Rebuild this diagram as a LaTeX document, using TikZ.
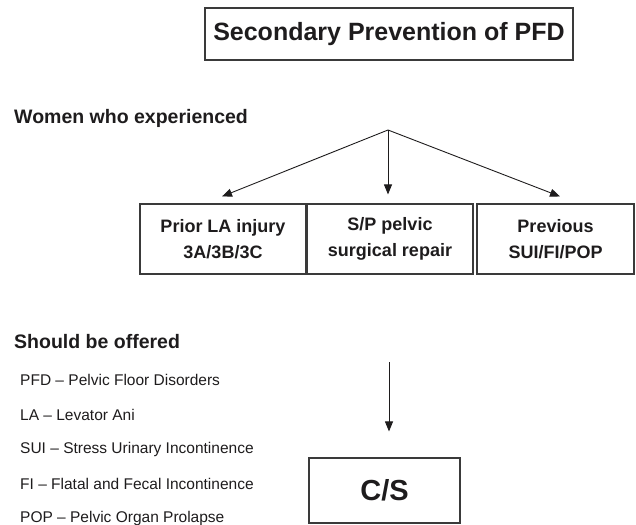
\documentclass[tikz,border=0pt]{standalone}
\usepackage[rgb]{xcolor}
\usepackage{fontspec}
\setmainfont{Liberation Sans}
\usepackage{tikz}
\usetikzlibrary{arrows.meta}
\newdimen\boxH
\newdimen\boxW
\setlength{\boxH}{70pt}
\setlength{\boxW}{166pt}
\definecolor{ink}{HTML}{1E1C1D}
\definecolor{rule}{HTML}{3A3A3A}
\tikzset{
  framebox/.style={draw=rule, line width=1.1pt, inner sep=0pt, align=center},
  groupbox/.style={framebox, minimum height=\boxH, font=\fontsize{18}{26}\selectfont\bfseries},
  headtext/.style={anchor=west, inner sep=0pt, font=\fontsize{19.5}{22}\selectfont\bfseries},
  listtext/.style={anchor=west, inner sep=0pt, font=\fontsize{15.5}{18}\selectfont},
  arr/.style={draw=ink, line width=0.9pt, -{Triangle[length=10pt,width=8pt]}},
}

\begin{document}
\begin{tikzpicture}[x=1pt, y=-1pt, color=ink]
    \useasboundingbox (0,0) rectangle (636,524);
    \node[framebox, minimum width=368pt, minimum height=52pt,
      font=\fontsize{25}{28}\selectfont\bfseries] (title) at (389,34)
      {Secondary Prevention of PFD};
    \node[headtext] (women) at (14,118) {Women who experienced};
    \coordinate (apex) at (388,130);
    % three groups
    \node[groupbox, minimum width=\boxW] (injury) at (223,239)
      {Prior LA injury\\3A/3B/3C};
    \node[groupbox, minimum width=\boxW] (repair) at (390,239)
      {S/P pelvic\\surgical repair};
    \node[groupbox, minimum width=157pt] (previous) at (555.5,239)
      {Previous\\SUI/FI/POP};
    \draw[arr] (apex) -- ([xshift=-1pt,yshift=7pt]injury.north);
    \draw[arr] (apex) -- ([yshift=9pt,xshift=-2pt]repair.north);
    \draw[arr] (apex) -- ([xshift=4.5pt,yshift=7pt]previous.north);
    \node[headtext] (offered) at (14,342) {Should be offered};
    \node[listtext] (pfd) at (20,380) {PFD -- Pelvic Floor Disorders};
    \node[listtext] (la) at (20,415) {LA -- Levator Ani};
    \node[listtext] (sui) at (20,449) {SUI -- Stress Urinary Incontinence};
    \node[listtext] (fi) at (20,484) {FI -- Flatal and Fecal Incontinence};
    \node[listtext] (pop) at (20,518) {POP -- Pelvic Organ Prolapse};
    % outcome
    \node[framebox, minimum width=151pt, minimum height=65pt,
      font=\fontsize{29}{32}\selectfont\bfseries] (cs) at (384.5,490.5) {C/S};
    \coordinate (offertop) at (389,362);
    \draw[arr] (offertop) -- ([xshift=4.5pt,yshift=26pt]cs.north);
\end{tikzpicture}
\end{document}
